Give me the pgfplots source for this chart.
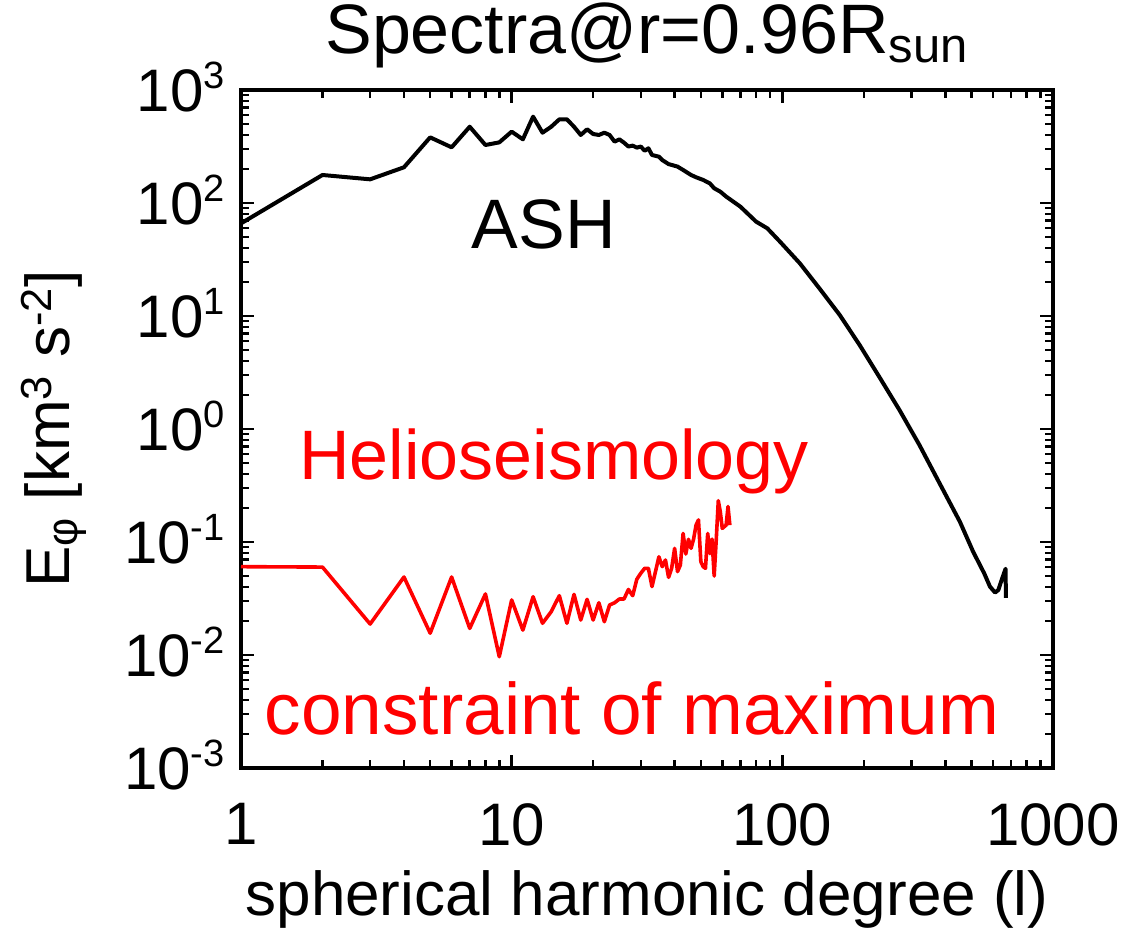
\documentclass[border=0pt]{standalone}
\usepackage{pgfplots}
\pgfplotsset{compat=1.18}
\usepackage{fontspec}
\setmainfont{Liberation Sans}
\newcommand{\sps}[1]{\raisebox{0.38em}{\fontsize{19}{19}\selectfont #1}}
\pgfplotstableread{
l E
1 66
2 177
3 162
4 207
5 381
6 311
7 473
8 326
9 344
10 428
11 366
12 581
13 419
14 473
15 550
16 550
17 473
18 400
19 449
20 408
21 400
22 419
23 400
24 349
25 366
26 342
27 316
28 322
29 309
30 316
31 290
32 305
33 266
35 257
36 240
38 221
41 210
43 196
46 177
48 169
51 160
54 149
56 135
59 126
62 114
70 92.8
80 68.4
88 59.7
98 45.5
116 29.3
137 17.6
163 10.2
193 5.54
228 2.90
271 1.47
321 0.722
380 0.335
453 0.151
507 0.082
557 0.0528
585 0.0403
611 0.0357
628 0.0376
646 0.0461
668 0.058
670 0.032
}\ash
\pgfplotstableread{
l E
1 0.0605
2 0.06
3 0.0188
4 0.049
5 0.0156
6 0.049
7 0.0172
8 0.0347
9 0.00966
10 0.0307
11 0.0166
12 0.0328
13 0.0191
14 0.0242
15 0.0335
16 0.0191
17 0.0344
18 0.0204
19 0.0311
20 0.0204
21 0.029
22 0.0197
23 0.0277
24 0.029
25 0.0313
26 0.0313
27 0.038
28 0.0335
29 0.0468
30 0.0529
31 0.0585
32 0.0585
33 0.0403
35 0.074
36 0.0605
37 0.0693
38 0.0487
39 0.0585
40 0.0879
41 0.0547
42 0.0625
43 0.119
44 0.0783
45 0.1057
46 0.0879
47 0.106
48 0.141
49 0.157
50 0.067
51 0.0605
52 0.0585
53 0.119
54 0.079
55 0.106
56 0.05
57 0.105
58 0.232
59 0.185
60 0.132
62 0.141
63 0.206
64 0.141
}\helio
\begin{document}
\begin{tikzpicture}
\useasboundingbox (-120.5pt,-79.5pt) rectangle (441pt,384pt);
\begin{axis}[
  at={(0pt,0pt)}, anchor=south west,
  scale only axis, width=406pt, height=339pt,
  xmode=log, ymode=log,
  xmin=1, xmax=1000, ymin=1e-3, ymax=1e3,
  axis line style={line width=1.7pt},
  every tick/.style={black, line width=1.3pt},
  major tick length=6.5pt, minor tick length=4pt,
  tick align=inside,
  xtick={1,10,100,1000}, xticklabels={1,10,100,1000},
  minor xtick={2,3,4,5,6,7,8,9,20,30,40,50,60,70,80,90,200,300,400,500,600,700,800,900},
  ytick={1e-3,1e-2,1e-1,1,10,100,1000},
  yticklabels={10\sps{-3},10\sps{-2},10\sps{-1},10\sps{0},10\sps{1},10\sps{2},10\sps{3}},
  minor ytick={0.002,0.003,0.004,0.005,0.006,0.007,0.008,0.009,
    0.02,0.03,0.04,0.05,0.06,0.07,0.08,0.09,
    0.2,0.3,0.4,0.5,0.6,0.7,0.8,0.9,
    2,3,4,5,6,7,8,9,20,30,40,50,60,70,80,90,200,300,400,500,600,700,800,900},
  xticklabel style={font=\fontsize{30}{30}\selectfont, anchor=north, inner sep=0pt, yshift=-17.5pt},
  yticklabel style={font=\fontsize{30}{30}\selectfont, anchor=base east, inner sep=0pt, xshift=-8pt, yshift=-10.7pt},
  title={Spectra@r=0.96R\textsubscript{sun}},
  title style={font=\fontsize{35}{35}\selectfont, at={(axis description cs:0.5,1)}, anchor=base, inner sep=0pt, yshift=12.5pt},
  xlabel={spherical harmonic degree (l)},
  xlabel style={font=\fontsize{31}{31}\selectfont, at={(axis description cs:0.5,0)}, anchor=base, inner sep=0pt, yshift=-73.5pt},
  ylabel={E\textsubscript{φ} [km\textsuperscript{3} s\textsuperscript{-2}]},
  ylabel style={font=\fontsize{31}{31}\selectfont, at={(axis description cs:-0.2106,0.5)}, anchor=base, inner sep=0pt},
]
\addplot[black, line width=2pt, line join=round] table[x=l, y=E] {\ash};
\addplot[red, line width=1.8pt, line join=round] table[x=l, y=E] {\helio};
\node[anchor=base, inner sep=0pt, font=\fontsize{35}{35}\selectfont] at (axis cs:13.16,39.7) {ASH};
\node[anchor=base, inner sep=0pt, text=red, font=\fontsize{35}{35}\selectfont] at (axis cs:14.33,0.354) {Helioseismology};
\node[anchor=base, inner sep=0pt, text=red, font=\fontsize{36.5}{36.5}\selectfont] at (axis cs:27.8,0.00196) {constraint of maximum};
\end{axis}
\end{tikzpicture}
\end{document}
